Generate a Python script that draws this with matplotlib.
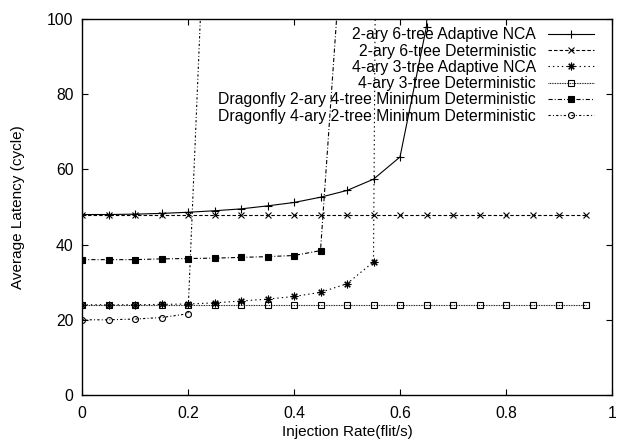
import numpy as np
import matplotlib
matplotlib.use("Agg")
import matplotlib.pyplot as plt
from matplotlib.ticker import MultipleLocator

plt.rcParams['font.family'] = ['Liberation Sans', 'DejaVu Sans']
plt.rcParams['lines.scale_dashes'] = False

# ---- data ----
rates_full = [0.0, 0.05, 0.10, 0.15, 0.20, 0.25, 0.30, 0.35, 0.40, 0.45,
              0.50, 0.55, 0.60, 0.65, 0.70, 0.75, 0.80, 0.85, 0.90, 0.95]

labels = ["2-ary 6-tree Adaptive NCA",
          "2-ary 6-tree Deterministic",
          "4-ary 3-tree Adaptive NCA",
          "4-ary 3-tree Deterministic",
          "Dragonfly 2-ary 4-tree Minimum Deterministic",
          "Dragonfly 4-ary 2-tree Minimum Deterministic"]

ary2_6tree_adaptive = [48.0, 48.0, 48.1, 48.3, 48.6, 49.0, 49.5, 50.3, 51.2,
                       52.6, 54.4, 57.4, 63.3, 98.0, 300.0]
ary2_6tree_det = [48.0] * 20
ary4_3tree_adaptive = [24.0, 24.0, 24.0, 24.1, 24.2, 24.5, 25.0, 25.5, 26.2,
                       27.3, 29.6, 35.4, 1100.0]
ary4_3tree_det = [24.0] * 20
df_2ary_4tree = [36.0, 36.0, 36.0, 36.2, 36.3, 36.4, 36.6, 36.8, 37.1, 38.4, 140.0]
df_4ary_2tree = [20.0, 20.0, 20.2, 20.6, 21.6, 190.0]

series = [ary2_6tree_adaptive, ary2_6tree_det, ary4_3tree_adaptive,
          ary4_3tree_det, df_2ary_4tree, df_4ary_2tree]

styles = [
    dict(ls='-', marker='+', ms=6, mew=0.8),
    dict(ls=(0, (2.5, 1.5)), marker='x', ms=4.5, mew=0.8),
    dict(ls=(0, (1.0, 2.2)), marker=(8, 2, 0), ms=5.5, mew=0.8),
    dict(ls=(0, (0.6, 0.6)), marker='s', ms=4.2, mew=0.8, mfc='none'),
    dict(ls=(0, (3.0, 1.5, 0.7, 1.5)), marker='s', ms=5, mew=0.8, mfc='black'),
    dict(ls=(0, (1.6, 1.6, 0.7, 1.6)), marker='o', ms=4.3, mew=0.8, mfc='none'),
]

fig = plt.figure(figsize=(6.17, 4.43), dpi=100)
ax = fig.add_axes([82/617, 1-395/443, 530/617, 376/443])

for vals, lab, st in zip(series, labels, styles):
    ax.plot(rates_full[:len(vals)], vals, color='black', lw=0.8, label=lab, **st)

ax.set_xlim(0, 1)
ax.set_ylim(0, 100)
ax.yaxis.set_major_locator(MultipleLocator(20))
ax.set_xticks([0, 0.2, 0.4, 0.6, 0.8, 1.0])
ax.set_xticklabels(["0", "0.2", "0.4", "0.6", "0.8", "1"])
ax.tick_params(direction='in', length=4, width=0.8, top=True, right=True,
               labelsize=11.3, colors='black')
ax.tick_params(axis='y', pad=6)
ax.tick_params(axis='x', pad=8)
for sp in ax.spines.values():
    sp.set_linewidth(1.0)

ax.set_xlabel("Injection Rate(flit/s)", fontsize=11, labelpad=3)
ax.set_ylabel("Average Latency (cycle)", fontsize=11, labelpad=16)

leg = ax.legend(loc='upper right', bbox_to_anchor=(0.966, 0.978), frameon=False,
                markerfirst=False, fontsize=11.3, handlelength=2.9,
                handletextpad=0.8, labelspacing=0.08, borderpad=0,
                borderaxespad=0)

fig.savefig("out.png", dpi=100)
